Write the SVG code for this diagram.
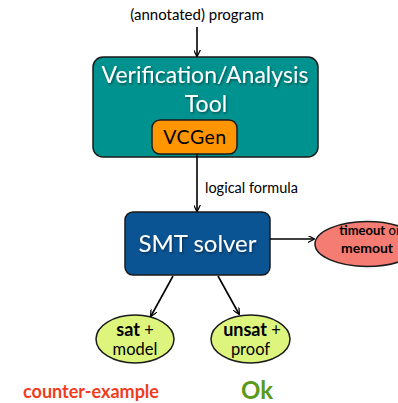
<svg xmlns="http://www.w3.org/2000/svg" width="398" height="403" viewBox="0 0 398 403">
<style>
text{font-family:Lato,"Open Sans","DejaVu Sans",sans-serif;text-anchor:middle}
.lbl{font-size:15px;fill:#000}
.big{font-size:23px;fill:#fff}
.b{font-weight:bold}
.el{font-size:16.5px;fill:#000}
.edge{stroke:#000;stroke-width:1.6;fill:none;marker-end:url(#ah)}
</style>
<defs>
<marker id="ah" viewBox="0 0 10 10" refX="9" refY="5" markerWidth="7" markerHeight="7" orient="auto" markerUnits="userSpaceOnUse">
<path d="M0,0 L10,5 L0,10" fill="none" stroke="#000" stroke-width="1.8"/>
</marker>
<filter id="ts" x="-10%" y="-20%" width="130%" height="150%">
<feDropShadow dx="1" dy="1.5" stdDeviation="1" flood-color="#000" flood-opacity="0.45"/>
</filter>
</defs>
<g id="input"><text class="lbl" x="197" y="20">(annotated) program</text></g>
<g id="tool">
<rect x="93" y="57" width="225" height="100" rx="10" fill="#00928F" stroke="#1a1a1a" stroke-width="1.5"/>
<text class="big" x="205" y="83" filter="url(#ts)">Verification/Analysis</text>
<text class="big" x="206" y="112" filter="url(#ts)">Tool</text>
</g>
<g id="vcgen">
<rect x="152" y="120" width="85" height="34" rx="8" fill="#FF9500" stroke="#1a1a1a" stroke-width="1.5"/>
<text x="195" y="144" style="font-size:19.5px;letter-spacing:0.5px" fill="#000">VCGen</text>
</g>
<g id="smt">
<rect x="125" y="212" width="145" height="63" rx="8" fill="#0A5494" stroke="#1a1a1a" stroke-width="1.5"/>
<text class="big" x="197.5" y="252" style="font-size:24px" filter="url(#ts)">SMT solver</text>
</g>
<g id="timeout">
<ellipse cx="367" cy="244" rx="52" ry="22.5" fill="#F47C72" stroke="#1a1a1a" stroke-width="1.5"/>
<text x="370" y="235" style="font-size:13px"><tspan class="b">timeout</tspan> or</text>
<text class="b" x="367" y="253" style="font-size:14px">memout</text>
</g>
<g id="sat">
<ellipse cx="135" cy="339" rx="39" ry="24" fill="#DDF57C" stroke="#1a1a1a" stroke-width="1.5"/>
<text class="el" x="135" y="336"><tspan class="b" style="font-size:18px">sat</tspan> +</text>
<text class="el" x="135" y="355">model</text>
</g>
<g id="unsat">
<ellipse cx="250.5" cy="339" rx="39.5" ry="24" fill="#DDF57C" stroke="#1a1a1a" stroke-width="1.5"/>
<text class="el" x="252" y="336"><tspan class="b" style="font-size:18px">unsat</tspan> +</text>
<text class="el" x="250.5" y="355">proof</text>
</g>
<g id="results">
<text class="b" x="91" y="398" style="font-size:18px" fill="#F03C1E">counter-example</text>
<text class="b" x="257" y="399" style="font-size:24px" fill="#5A9A1A">Ok</text>
</g>
<g id="connectors">
<line class="edge" x1="197" y1="27" x2="197" y2="56"/>
<line class="edge" x1="197" y1="154" x2="197" y2="211"/>
<text class="lbl" x="205" y="193" style="text-anchor:start;font-size:14.5px">logical formula</text>
<line class="edge" x1="270" y1="239" x2="314" y2="239"/>
<line class="edge" x1="173" y1="276" x2="151" y2="316"/>
<line class="edge" x1="218" y1="276" x2="239" y2="314"/>
</g>
</svg>
